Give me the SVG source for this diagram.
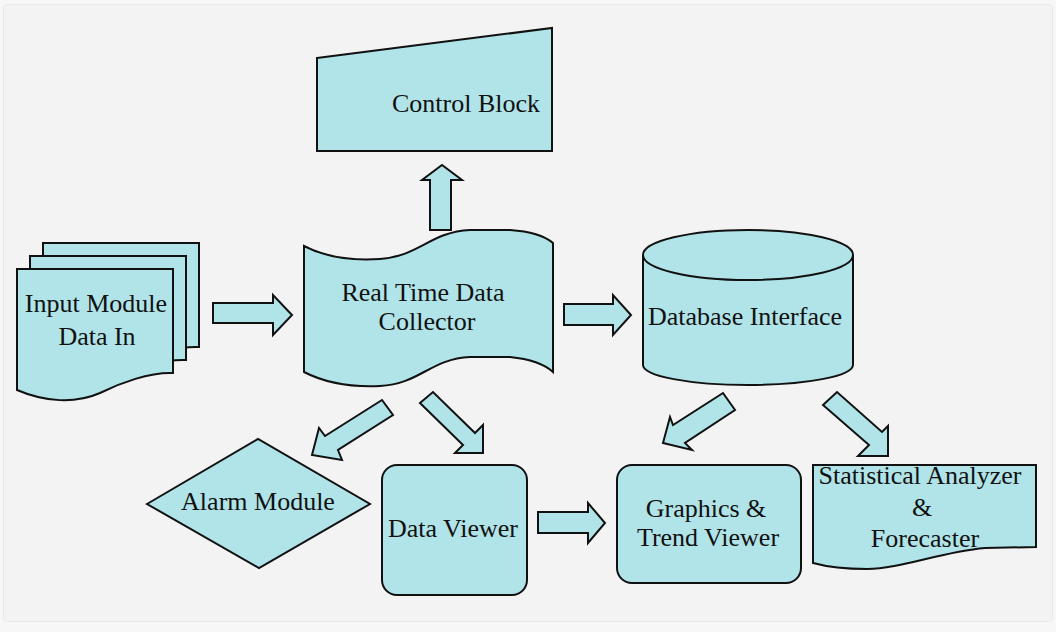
<svg xmlns="http://www.w3.org/2000/svg" width="1056" height="632" viewBox="0 0 1056 632">
<style>
.s{fill:#b0e4e8;stroke:#111;stroke-width:2;stroke-linejoin:miter}
.a{fill:#b0e4e8;stroke:#111;stroke-width:2;stroke-linejoin:miter}
.t{font-family:"Liberation Serif","Times New Roman","DejaVu Serif",serif;font-size:26px;fill:#111;text-anchor:middle}
</style>
<rect x="0" y="0" width="1056" height="632" fill="#f7f7f7"/>
<rect x="3.5" y="4.5" width="1049" height="617" rx="4" fill="#f3f3f3" stroke="#e9e9e9" stroke-width="1"/>

<g id="connectors">
  <polygon class="a" points="213,303 273,303 273,295 292,315 273,335 273,323 213,323"/>
  <polygon class="a" points="564,304 613,304 613,295 631,315 613,335 613,325 564,325"/>
  <polygon class="a" points="538,512 588,512 588,503 605,523 588,543 588,533 538,533"/>
  <polygon class="a" points="430,230 430,180 422,180 442,165 462,180 451,180 451,230"/>
  <polygon class="a" points="382,400 393,415 338,450 342,460 312,455 319,428 325,436"/>
  <polygon class="a" points="420,403 433,392 475,433 483,425 483,453 455,453 463,445"/>
  <polygon class="a" points="723,393 735,410 685,443 692,450 663,443 670,417 673,425"/>
  <polygon class="a" points="823,405 837,392 882,432 888,426 888,456 858,456 869,445"/>
</g>

<g id="input-module">
  <path class="s" transform="translate(26,-26)" d="M17,269 L173,269 L173,373 C150,372 120,383 100,393 C75,404 45,402 17,390 Z"/>
  <path class="s" transform="translate(13,-13)" d="M17,269 L173,269 L173,373 C150,372 120,383 100,393 C75,404 45,402 17,390 Z"/>
  <path class="s" d="M17,269 L173,269 L173,373 C150,372 120,383 100,393 C75,404 45,402 17,390 Z"/>
  <text class="t" x="96" y="312">Input Module</text>
  <text class="t" x="97" y="345">Data In</text>
</g>

<g id="control-block">
  <path class="s" d="M317,58 L552,28 L552,151 L317,151 Z"/>
  <text class="t" x="466" y="112">Control Block</text>
</g>

<g id="collector">
  <path class="s" d="M304,246 Q335,262 380,259 C420,256 430,232 470,230 L510,230 Q540,232 553,243 L553,372 Q540,360 510,357 L470,357 C430,359 420,384 380,386 Q335,388 304,372 Z"/>
  <text class="t" x="423" y="301">Real Time Data</text>
  <text class="t" x="427" y="330">Collector</text>
</g>

<g id="database">
  <path class="s" d="M643,255 L643,365 A105,20 0 0 0 853,365 L853,255"/>
  <ellipse class="s" cx="748" cy="255" rx="105" ry="25"/>
  <text class="t" x="745" y="325">Database Interface</text>
</g>

<g id="alarm">
  <polygon class="s" points="147,504 258,439 370,504 259,568"/>
  <text class="t" x="258" y="510">Alarm Module</text>
</g>

<g id="data-viewer">
  <rect class="s" x="382" y="465" width="145" height="130" rx="15"/>
  <text class="t" x="453" y="537">Data Viewer</text>
</g>

<g id="graphics">
  <rect class="s" x="617" y="465" width="184" height="118" rx="15"/>
  <text class="t" x="706" y="517">Graphics &amp;</text>
  <text class="t" x="708" y="546">Trend Viewer</text>
</g>

<g id="statistical">
  <path class="s" d="M813,465 L1036,465 L1036,547 L985,548 C940,552 900,569 867,569 Q835,569 813,563 Z"/>
  <text class="t" x="920" y="484">Statistical Analyzer</text>
  <text class="t" x="922" y="516">&amp;</text>
  <text class="t" x="925" y="547">Forecaster</text>
</g>
</svg>
